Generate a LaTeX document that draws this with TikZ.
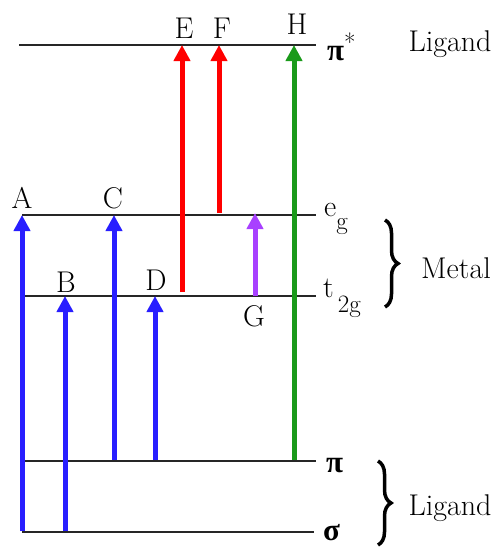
\documentclass[tikz,border=0pt]{standalone}
\usepackage{fontspec}
\newfontfamily\grk{Liberation Serif}
\usetikzlibrary{arrows.meta,decorations.pathreplacing}
\definecolor{tblue}{RGB}{40,30,255}
\definecolor{tred}{RGB}{255,0,0}
\definecolor{tgreen}{RGB}{26,154,26}
\definecolor{tpurple}{RGB}{168,64,255}
\newcommand{\bigfs}{\fontsize{30}{30}\selectfont}
\newcommand{\subfs}{\fontsize{25}{25}\selectfont}
\newcommand{\grfs}{\grk\bfseries\fontsize{31}{31}\selectfont}
\tikzset{
  level/.style={line width=1.6pt, draw=black!85},
  trans/.style={line width=5pt, -{Triangle[length=16pt,width=16pt]}, shorten >=-1pt},
  lab/.style={inner sep=0pt, font=\bigfs},
  side/.style={inner sep=0pt, anchor=west, font=\bigfs},
  brc/.style={line width=3.5pt, decorate, decoration={brace, amplitude=13pt}}
}
\begin{document}
\begin{tikzpicture}[x=1pt,y=-1pt]
\useasboundingbox (0,0) rectangle (496,549);
% level end points
\coordinate (ps1) at (19,45);  \coordinate (ps2) at (316,45);
\coordinate (eg1) at (22,215); \coordinate (eg2) at (316,215);
\coordinate (tg1) at (22,296); \coordinate (tg2) at (316,296);
\coordinate (pi1) at (22,461); \coordinate (pi2) at (316,461);
\coordinate (sg1) at (22,532); \coordinate (sg2) at (314,532);
\draw[level] (ps1) -- (ps2);
\draw[level] (eg1) -- (eg2);
\draw[level] (tg1) -- (tg2);
\draw[level] (pi1) -- (pi2);
\draw[level] (sg1) -- (sg2);
% transition end points
\coordinate (a0) at (22,531);  \coordinate (a1) at (22,216);
\coordinate (b0) at (65,531);  \coordinate (b1) at (65,297);
\coordinate (c0) at (114,460); \coordinate (c1) at (114,216);
\coordinate (d0) at (155,460); \coordinate (d1) at (155,297);
\coordinate (e0) at (182,292); \coordinate (e1) at (182,46);
\coordinate (f0) at (219,213); \coordinate (f1) at (219,46);
\coordinate (g0) at (255,296); \coordinate (g1) at (255,214);
\coordinate (h0) at (294,460); \coordinate (h1) at (294,46);
\draw[trans, tblue] (a0) -- (a1);
\draw[trans, tblue] (b0) -- (b1);
\draw[trans, tblue] (c0) -- (c1);
\draw[trans, tblue] (d0) -- (d1);
\draw[trans, tred] (e0) -- (e1);
\draw[trans, tred] (f0) -- (f1);
\draw[trans, tpurple] (g0) -- (g1);
\draw[trans, tgreen] (h0) -- (h1);
% transition labels
\node[lab] (lA) at (22,198) {A};
\node[lab] (lB) at (66,282) {B};
\node[lab] (lC) at (113,198) {C};
\node[lab] (lD) at (156,280) {D};
\node[lab] (lE) at (184,28) {E};
\node[lab] (lF) at (222,28) {F};
\node[lab] (lG) at (254,316) {G};
\node[lab] (lH) at (297,24) {H};
% level labels
\node[side] (lps) at (327,47) {{\grfs π}\raisebox{0.3em}{\subfs *}};
\node[lab] (lig1) at (450,44) {Ligand};
\node[side] (leg) at (324,219) {e\raisebox{-0.45em}{\subfs g}};
\node[side] (ltg) at (323,298) {t\hspace{4pt}\raisebox{-0.5em}{\subfs 2g}};
\node[side] (lpi) at (326,466) {\grfs π};
\node[side] (lsg) at (323,533) {\grfs σ};
% braces
\coordinate (mb1) at (385,220); \coordinate (mb2) at (385,307);
\coordinate (lb1) at (378,461); \coordinate (lb2) at (378,545);
\draw[brc] (mb1) -- (mb2);
\draw[brc] (lb1) -- (lb2);
\node[lab] (lmet) at (456,268) {Metal};
\node[lab] (lig2) at (450,508) {Ligand};
\end{tikzpicture}
\end{document}
